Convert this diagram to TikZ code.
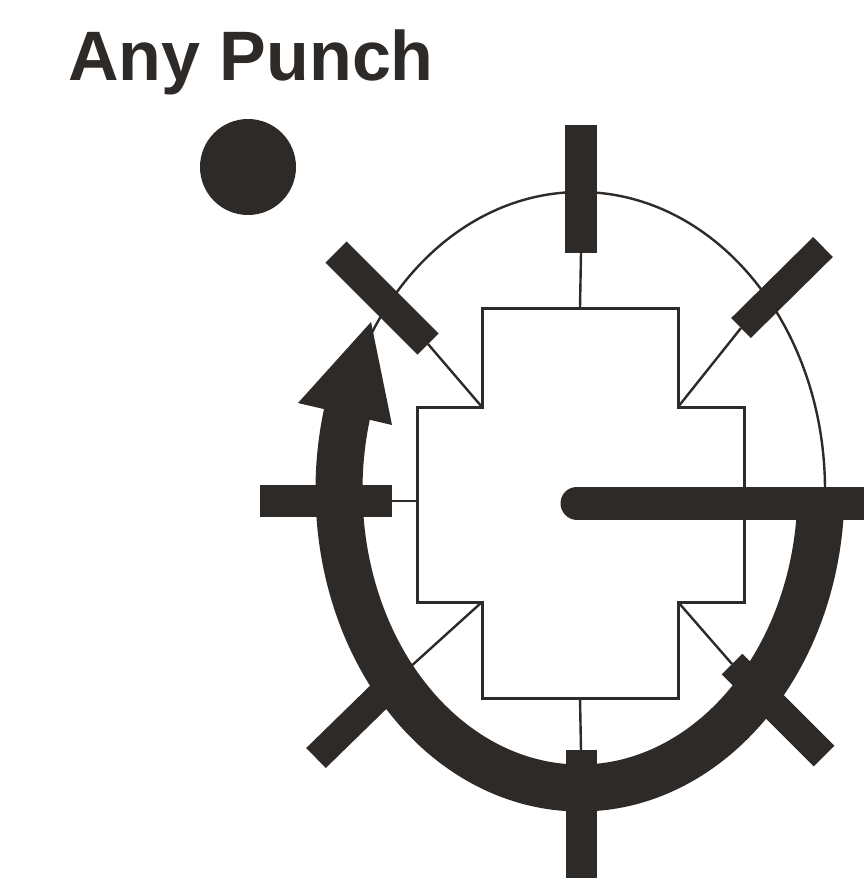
\documentclass[tikz,border=0pt]{standalone}
\usepackage{fontspec}
\newfontfamily\titlefont{Liberation Sans}
\definecolor{ink}{RGB}{46,42,40}
\begin{document}
\begin{tikzpicture}[x=1pt,y=-1pt,
  thinline/.style={draw=ink,line width=2.4pt},
  outline/.style={draw=ink,line width=3pt,line join=miter},
  barline/.style={draw=ink,line width=30pt,line cap=butt},
  thickarc/.style={draw=ink,line width=47pt,line cap=butt}]
\clip (0,0) rectangle (864,878);
\fill[white] (0,0) rectangle (864,878);
% title
\node[anchor=base west,inner sep=0pt,text=ink,
  font=\titlefont\bfseries\fontsize{70}{80}\selectfont] (title) at (68,80) {Any Punch};
% dot
\fill[ink] (248,167) circle [radius=48pt];
% thin ellipse
\draw[thinline] (580,490) ellipse [x radius=245pt,y radius=298pt];
% cross outline
\draw[outline] (482,308) -- (678,308) -- (678,407) -- (744,407) -- (744,602)
  -- (678,602) -- (678,698) -- (482,698) -- (482,602) -- (417,602)
  -- (417,407) -- (482,407) -- cycle;
% corner coordinates
\coordinate (cT) at (580,308);
\coordinate (cB) at (580,698);
\coordinate (cL) at (417,501);
\coordinate (cTL) at (482,407);
\coordinate (cTR) at (678,407);
\coordinate (cBL) at (482,602);
\coordinate (cBR) at (678,602);
% bar ends
\coordinate (tA) at (581,125); \coordinate (tB) at (581,253);
\coordinate (tlA) at (336,252); \coordinate (tlB) at (428,344);
\coordinate (trA) at (823,247); \coordinate (trB) at (741,328);
\coordinate (lA) at (260,501); \coordinate (lB) at (392,501);
\coordinate (blA) at (316,758); \coordinate (blB) at (398,678);
\coordinate (bA) at (581,880); \coordinate (bB) at (581,750);
\coordinate (brA) at (824,756); \coordinate (brB) at (732,664);
% spokes
\draw[thinline] (cT) -- (tB);
\draw[thinline] (cTL) -- (tlB);
\draw[thinline] (cTR) -- (trB);
\draw[thinline] (cL) -- (lB);
\draw[thinline] (cBL) -- (blB);
\draw[thinline] (cB) -- (bB);
\draw[thinline] (cBR) -- (brB);
% bars
\draw[barline,line width=32pt] (tA) -- (tB);
\draw[barline] (tlA) -- (tlB);
\draw[barline,line width=28pt] (trA) -- (trB);
\draw[barline,line width=32pt] (lA) -- (lB);
\draw[barline,line width=28pt] (blA) -- (blB);
\draw[barline,line width=31pt] (bA) -- (bB);
\draw[barline,line width=29pt] (brA) -- (brB);
% thick arrow arc
\draw[thickarc] (820.67,505.6) arc [start angle=-3,end angle=-196,x radius=241pt,y radius=298pt];
\coordinate (hL) at (298,403);
\coordinate (hT) at (371,322);
\coordinate (hR) at (392,425);
\fill[ink] (hL) -- (hT) -- (hR) -- cycle;
% horizontal stick
\draw[draw=ink,line width=33pt,line cap=round] (577,503) -- (900,503);
\end{tikzpicture}
\end{document}
